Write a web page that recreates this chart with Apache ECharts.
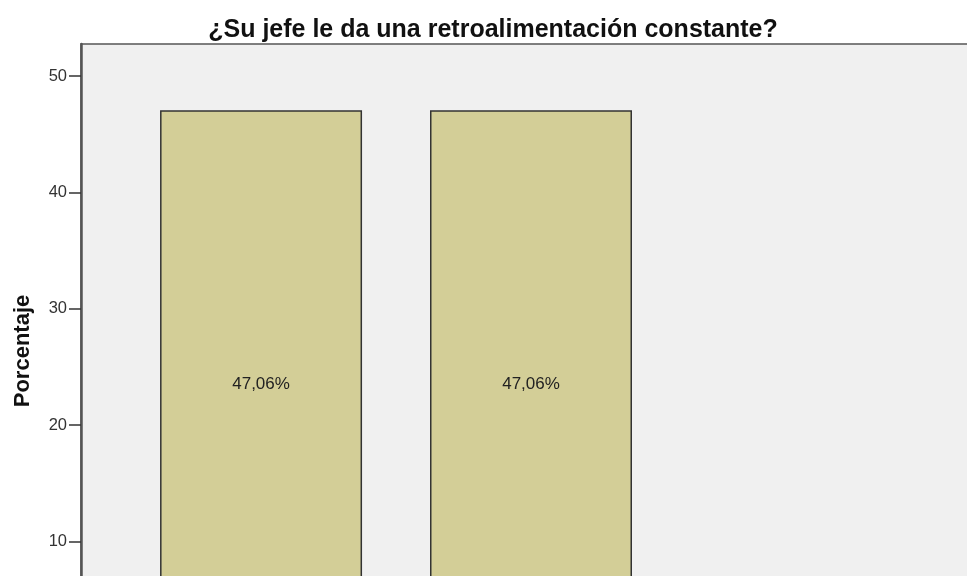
<!DOCTYPE html>
<html>
<head>
<meta charset="utf-8">
<script src="https://cdn.jsdelivr.net/npm/echarts@6/dist/echarts.min.js"></script>
<style>
  html, body { margin: 0; padding: 0; background: #fff; }
  #div_chart { width: 967px; height: 576px; }
</style>
</head>
<body>
<div id="div_chart"></div>
<script>
"use strict";

// data (third bar falls below the visible area)
const categories = ["Siempre", "A veces", "Nunca"];
const values_pct = [47.06, 47.06, 5.88];
const y_ticks = [0, 10, 20, 30, 40, 50];

const html_div_chart = document.getElementById("div_chart");
const chart = echarts.init(html_div_chart);

const font = "'Liberation Sans', Arial, sans-serif";

// bars placed on a value axis at their category index
const data_bars = values_pct.map((v, i) => ({ value: [i, v], name: categories[i] }));

chart.setOption({
  animation: false,
  title: {
    text: "¿Su jefe le da una retroalimentación constante?",
    left: 488,
    top: 13,
    textAlign: "center",
    textStyle: { fontFamily: font, fontSize: 25, fontWeight: "bold", color: "#111" },
  },
  grid: {
    left: 81,
    right: -14,
    top: 44,
    bottom: -82,
    outerBoundsMode: "none",
    containLabel: false,
    show: true,
    backgroundColor: "#f0f0f0",
    borderColor: "#555",
    borderWidth: 1.5,
  },
  xAxis: {
    type: "value",
    min: -0.667,
    max: 2.667,
    axisLine: { show: false },
    axisTick: { show: false },
    axisLabel: { show: false },
    splitLine: { show: false },
  },
  yAxis: {
    type: "value",
    min: 0,
    max: 52.76,
    name: "Porcentaje",
    nameLocation: "middle",
    nameGap: 47,
    nameTextStyle: { fontFamily: font, fontSize: 22, fontWeight: "bold", color: "#111" },
    axisLine: { show: true, onZero: false, lineStyle: { color: "#555", width: 2.5 } },
    axisTick: { show: true, length: 12, customValues: y_ticks, lineStyle: { color: "#333", width: 1.5 } },
    axisLabel: {
      customValues: y_ticks,
      margin: 14,
      fontFamily: font,
      fontSize: 16.5,
      color: "#333",
    },
    splitLine: { show: false },
  },
  series: [
    {
      type: "bar",
      data: data_bars,
      barWidth: 202,
      itemStyle: { color: "#d3ce97", borderColor: "#333", borderWidth: 1.5 },
      label: {
        show: true,
        position: "inside",
        formatter: p => p.value[1].toFixed(2).replace(".", ",") + "%",
        fontFamily: font,
        fontSize: 17,
        color: "#222",
      },
    },
  ],
});
</script>
</body>
</html>
